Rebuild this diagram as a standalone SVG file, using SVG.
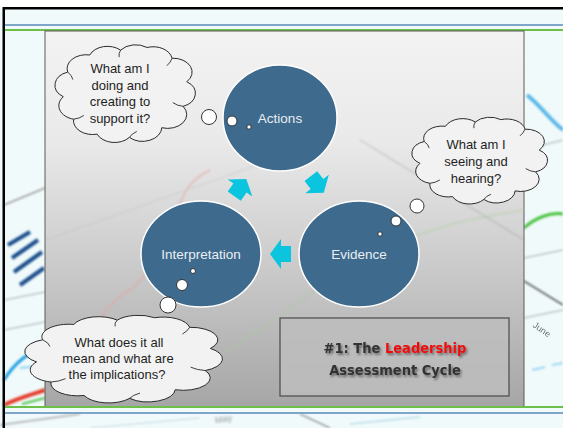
<svg xmlns="http://www.w3.org/2000/svg" xmlns:xlink="http://www.w3.org/1999/xlink" width="563" height="428" viewBox="0 0 563 428">
<style>
.node{fill:#3e6a8d;stroke:#ffffff;stroke-width:1.5}
.ntext{font-family:"Liberation Sans",Arial,sans-serif;font-size:13.5px;fill:#e9eff4;text-anchor:middle}
.cloud{fill:#f2f2f2;stroke:#2b2b2b;stroke-width:1}
.crease{fill:none;stroke:#2b2b2b;stroke-width:0.9}
.ctext{font-family:"Liberation Sans",Arial,sans-serif;font-size:13px;fill:#1e1e1e;text-anchor:middle}
.bub{fill:#ffffff;stroke:#333333;stroke-width:1}
.arrow{fill:#0bc4dd}
.title{font-family:"DejaVu Sans Condensed","DejaVu Sans",sans-serif;font-weight:bold;font-size:14.5px;fill:#333333;text-anchor:middle}
</style>
<defs>
<linearGradient id="panel" x1="0" y1="0" x2="0" y2="1">
<stop offset="0" stop-color="#f3f3f3"/>
<stop offset="0.3" stop-color="#e9e9e9"/>
<stop offset="0.6" stop-color="#cdcdcd"/>
<stop offset="1" stop-color="#a6a6a6"/>
</linearGradient>
<filter id="sh" x="-20%" y="-40%" width="140%" height="180%">
<feDropShadow dx="1.5" dy="2" stdDeviation="1" flood-color="#000" flood-opacity="0.45"/>
</filter>
<filter id="blur" x="-20%" y="-20%" width="140%" height="140%">
<feGaussianBlur stdDeviation="1.2"/>
</filter>
<g id="cloudShape">
<path class="cloud" vector-effect="non-scaling-stroke" d="M7,53 A13,13 0 0 1 10,30 A13,13 0 0 1 25,14 A13,13 0 0 1 46,9.5 A13,13 0 0 1 64,7 A13,13 0 0 1 81,17 A13,13 0 0 1 91,39 A13,13 0 0 1 88.5,62 A13,13 0 0 1 74,82 A13,13 0 0 1 52,91 A13,13 0 0 1 30,88 A13,13 0 0 1 14,74 A13,13 0 0 1 7,53 Z"/>
<path class="crease" vector-effect="non-scaling-stroke" d="M10,30 Q13,33 13.5,37 M46,9.5 Q44.5,12.5 45,16 M81,17 Q80,21 77.5,24 M88.5,62 Q84.5,61.5 81.5,58.5 M52,91 Q53.5,87.5 57,85.5 M14,74 Q18,73.5 21,70.5"/>
</g>
<path id="arr" d="M11,0 L0,-15 L0,-8 L-10,-8 L-10,8 L0,8 L0,15 Z"/>
</defs>

<!-- background photo -->
<g id="background">
<rect x="0" y="0" width="563" height="428" fill="#f1fafb"/>
<rect x="0" y="0" width="563" height="8" fill="#ffffff"/>
<g filter="url(#blur)" fill="none">
<path d="M4,205 L45,188" stroke="#9a9a9a" stroke-width="1.5"/>
<path d="M4,300 L45,292" stroke="#9aa" stroke-width="1"/>
<path d="M4,330 L45,322" stroke="#9aa" stroke-width="1"/>
<path d="M8,245 L30,232 M12,258 L38,240 M14,272 L42,252 M20,285 L44,268" stroke="#1d4f8c" stroke-width="4"/>
<path d="M4,380 C15,362 28,352 45,348" stroke="#1a9ee0" stroke-width="3"/>
<path d="M20,368 L40,366" stroke="#8fd0f0" stroke-width="2"/>
<path d="M4,405 C18,398 30,395 45,390" stroke="#e53b2c" stroke-width="4"/>
<path d="M22,404 L45,398" stroke="#48c048" stroke-width="2"/>
<path d="M527,95 C540,105 550,120 563,130" stroke="#5bb7e8" stroke-width="4"/>
<path d="M524,150 L563,140" stroke="#9aa" stroke-width="1"/>
<path d="M524,228 C535,218 550,212 563,214" stroke="#46c23c" stroke-width="3"/>
<path d="M524,258 L563,250" stroke="#9aa" stroke-width="1"/>
<path d="M524,281 L563,305" stroke="#222" stroke-width="1.2"/>
<path d="M524,318 L563,310" stroke="#9aa" stroke-width="1"/>
<path d="M532,370 L545,367 M552,365 L563,363" stroke="#9ad8f0" stroke-width="2"/>
<path d="M0,425 L80,414" stroke="#a9a9a9" stroke-width="1.5"/>
<path d="M300,414 L330,428" stroke="#777" stroke-width="1.2"/>
<path d="M90,428 L200,418" stroke="#c0d8e0" stroke-width="1"/>
<path d="M350,424 L420,417" stroke="#b8dde8" stroke-width="1.5"/>
</g>
<text x="540" y="332" transform="rotate(35 540 332)" font-family="Liberation Sans,Arial,sans-serif" font-size="9" fill="#333" opacity="0.7" text-anchor="middle">June</text>
<text x="224" y="422" transform="rotate(-10 224 422)" font-family="Liberation Sans,Arial,sans-serif" font-size="9" fill="#555" opacity="0.6" text-anchor="middle" filter="url(#blur)">May</text>
</g>

<!-- frame -->
<g id="frame">
<rect x="3" y="7" width="560" height="2.5" fill="#000"/>
<rect x="2.5" y="7" width="2.5" height="421" fill="#000"/>
<rect x="5" y="24" width="558" height="2" fill="#7fa6c8"/>
<rect x="5" y="29" width="558" height="2" fill="#6cc04a"/>
<rect x="45" y="31" width="479" height="376" fill="url(#panel)" stroke="#5a5a5a" stroke-width="1"/>
<g filter="url(#blur)" fill="none" opacity="0.5">
<path d="M60,370 C90,330 110,300 130,290 C150,275 160,250 175,215 C185,190 190,180 210,170" stroke="#e8a0a0" stroke-width="2"/>
<path d="M200,370 C260,330 300,300 360,260 C420,230 460,220 524,210" stroke="#a8cf98" stroke-width="1.5"/>
<path d="M45,240 L300,150" stroke="#bbb" stroke-width="1"/>
<path d="M360,140 L524,240" stroke="#888" stroke-width="1"/>
</g>
<rect x="5" y="406" width="558" height="2" fill="#6cc04a"/>
<rect x="5" y="412" width="558" height="2" fill="#7fa6c8"/>
</g>

<!-- connectors -->
<g id="connectors">
<use xlink:href="#arr" class="arrow" transform="translate(240,188) rotate(-55)"/>
<use xlink:href="#arr" class="arrow" transform="translate(317,184) rotate(52)"/>
<use xlink:href="#arr" class="arrow" transform="translate(281,254) rotate(180)"/>
</g>

<!-- nodes -->
<g id="actions">
<ellipse class="node" cx="280" cy="118" rx="57" ry="53"/>
<text class="ntext" x="280" y="123">Actions</text>
</g>
<g id="evidence">
<ellipse class="node" cx="359" cy="254" rx="60" ry="53"/>
<text class="ntext" x="359" y="259">Evidence</text>
</g>
<g id="interpretation">
<ellipse class="node" cx="201" cy="254" rx="60" ry="53"/>
<text class="ntext" x="201" y="259">Interpretation</text>
</g>

<!-- thought clouds -->
<g id="thought-actions">
<use xlink:href="#cloudShape" transform="translate(53,40) scale(1.47,1.07)"/>
<text class="ctext" x="120" y="73">What am I</text>
<text class="ctext" x="120" y="89.5">doing and</text>
<text class="ctext" x="120" y="106">creating to</text>
<text class="ctext" x="120" y="122.5">support it?</text>
<circle class="bub" cx="209" cy="117" r="7.5"/>
<circle class="bub" cx="232" cy="121" r="5"/>
<circle class="bub" cx="249" cy="127" r="2.2"/>
</g>
<g id="thought-evidence">
<use xlink:href="#cloudShape" transform="translate(410,113) scale(1.42,0.95)"/>
<text class="ctext" x="476" y="149">What am I</text>
<text class="ctext" x="476" y="166">seeing and</text>
<text class="ctext" x="476" y="183">hearing?</text>
<circle class="bub" cx="417" cy="206" r="7"/>
<circle class="bub" cx="396" cy="221" r="5"/>
<circle class="bub" cx="380" cy="234" r="2.2"/>
</g>
<g id="thought-interpretation">
<circle class="bub" cx="193" cy="271" r="2.5"/>
<circle class="bub" cx="182" cy="285" r="5.5"/>
<circle class="bub" cx="168" cy="305" r="8"/>
<use xlink:href="#cloudShape" transform="translate(22,311) scale(2.07,0.96)"/>
<text class="ctext" x="119" y="347">What does it all</text>
<text class="ctext" x="118" y="363">mean and what are</text>
<text class="ctext" x="117" y="379">the implications?</text>
</g>

<!-- title box -->
<g id="title">
<rect x="280" y="318" width="229" height="78" fill="#bdbdbd" fill-opacity="0.85" stroke="#4a4a4a" stroke-width="1.2"/>
<text class="title" x="395" y="353" filter="url(#sh)">#1: The <tspan fill="#ee1111">Leadership</tspan></text>
<text class="title" x="395" y="375" filter="url(#sh)">Assessment Cycle</text>
</g>
</svg>
